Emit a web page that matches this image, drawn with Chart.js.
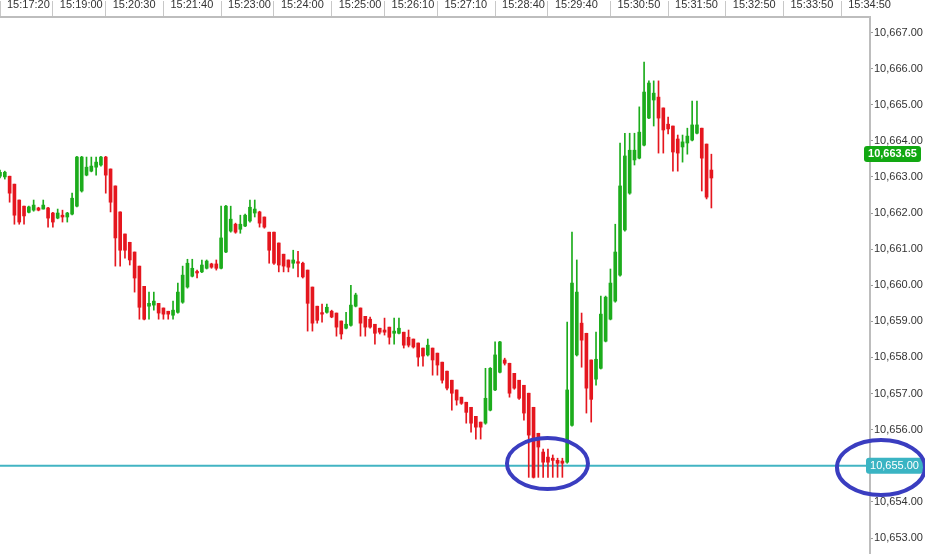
<!DOCTYPE html>
<html>
<head>
<meta charset="utf-8">
<script src="https://cdn.jsdelivr.net/npm/chart.js@4.4.0/dist/chart.umd.min.js"></script>
<style>
html,body{margin:0;padding:0;background:#fff;overflow:hidden}
#wrap{width:925px;height:554px;position:relative}
</style>
</head>
<body>
<div id="wrap"><canvas id="c" width="925" height="554"></canvas></div>
<script>
// ---- tick labels (time header) ----
const timeLabels = ['15:17:20','15:19:00','15:20:30','15:21:40','15:23:00','15:24:00','15:25:00','15:26:10',
  '15:27:10','15:28:40','15:29:40','15:30:50','15:31:50','15:32:50','15:33:50','15:34:50'];
const timeLabelSlots = [0,11,22,34,46,57,69,80,91,103,114,127,139,151,163,175];
const slotCount = 182;

// ---- candle values ----
const opens = [
10663.02,10663.00,10663.02,10662.80,10662.36,10662.19,10662.02,10662.08,10662.14,10662.11,
10662.14,10662.00,10661.86,10661.94,10661.89,10661.97,10662.19,10662.61,10663.05,10663.16,
10663.27,10663.33,10663.55,10663.22,10662.75,10662.03,10661.42,10661.19,10660.92,10660.53,
10659.97,10659.42,10659.45,10659.50,10659.37,10659.28,10659.17,10659.25,10659.53,10659.95,
10660.25,10660.37,10660.37,10660.47,10660.59,10660.59,10660.47,10660.92,10661.50,10661.69,
10661.55,10661.64,10661.78,10662.00,10662.03,10661.89,10661.47,10661.47,10661.17,10660.86,
10660.70,10660.61,10660.64,10660.61,10660.42,10659.95,10659.42,10659.23,10659.25,10659.28,
10659.23,10659.01,10658.81,10658.89,10659.42,10659.37,10659.14,10659.06,10658.92,10658.81,
10658.76,10658.84,10658.67,10658.67,10658.70,10658.56,10658.51,10658.40,10658.26,10658.07,
10658.26,10658.12,10657.87,10657.62,10657.37,10657.10,10656.90,10656.76,10656.62,10656.37,
10656.21,10656.18,10656.54,10657.10,10657.59,10657.93,10657.84,10657.56,10657.37,10657.23,
10657.01,10656.62,10655.90,10655.38,10655.24,10655.21,10655.15,10655.13,10655.10,10656.12,
10658.07,10658.95,10658.67,10657.93,10657.40,10657.70,10658.45,10659.06,10659.56,10660.28,
10661.53,10662.55,10663.47,10663.52,10663.88,10664.63,10665.13,10665.21,10664.91,10664.46,
10664.41,10664.05,10663.83,10663.94,10664.02,10664.21,10664.35,10663.91,10663.19];
const highs = [
10663.19,10663.16,10663.02,10662.80,10662.36,10662.19,10662.19,10662.36,10662.16,10662.36,
10662.16,10662.02,10662.11,10662.08,10662.02,10662.55,10663.57,10663.57,10663.55,10663.55,
10663.55,10663.57,10663.57,10663.22,10662.75,10662.03,10661.42,10661.19,10660.92,10660.53,
10659.97,10659.81,10659.81,10659.50,10659.37,10659.28,10659.56,10660.06,10660.53,10660.72,
10660.72,10660.42,10660.70,10660.70,10660.61,10660.70,10662.19,10662.21,10662.19,10661.72,
10661.94,10661.97,10662.36,10662.36,10662.05,10661.89,10661.47,10661.47,10661.17,10660.86,
10660.70,10660.97,10660.94,10660.64,10660.42,10659.95,10659.42,10659.48,10659.48,10659.31,
10659.23,10659.01,10659.25,10660.00,10659.78,10659.37,10659.14,10659.12,10658.92,10658.81,
10659.09,10658.84,10659.09,10659.09,10658.70,10658.76,10658.51,10658.40,10658.26,10658.51,
10658.26,10658.12,10657.87,10657.62,10657.37,10657.10,10656.90,10656.76,10656.62,10656.37,
10656.21,10657.70,10657.72,10658.43,10658.45,10657.98,10657.84,10657.56,10657.37,10657.23,
10657.01,10656.62,10655.90,10655.46,10655.46,10655.30,10655.21,10655.21,10658.98,10661.47,
10660.70,10659.23,10658.67,10657.93,10658.70,10659.70,10659.70,10660.45,10661.69,10663.94,
10664.21,10664.21,10664.21,10664.94,10666.18,10665.66,10665.66,10665.66,10664.91,10664.66,
10664.41,10664.16,10664.16,10664.35,10665.10,10665.10,10664.35,10663.91,10663.63];
const lows = [
10662.97,10662.94,10662.30,10661.69,10661.69,10661.69,10662.00,10662.05,10662.06,10662.11,
10661.61,10661.61,10661.84,10661.75,10661.75,10661.95,10662.17,10662.58,10663.03,10663.14,
10663.05,10663.30,10662.55,10662.03,10660.53,10660.53,10660.75,10660.56,10659.81,10659.06,
10659.04,10659.06,10659.31,10659.06,10659.06,10659.06,10659.06,10659.23,10659.50,10659.92,
10660.23,10660.20,10660.35,10660.45,10660.47,10660.42,10660.45,10660.90,10661.47,10661.44,
10661.44,10661.62,10661.75,10661.89,10661.61,10661.58,10660.61,10660.58,10660.37,10660.37,
10660.37,10660.47,10660.23,10660.20,10658.73,10658.73,10658.95,10658.98,10659.23,10659.10,
10658.59,10658.51,10658.79,10658.87,10659.40,10658.59,10658.59,10658.81,10658.37,10658.65,
10658.62,10658.37,10658.37,10658.65,10658.26,10658.29,10658.26,10657.76,10657.76,10658.04,
10657.51,10657.51,10657.29,10657.10,10656.54,10656.68,10656.70,10656.18,10655.93,10655.74,
10655.74,10656.15,10656.52,10657.08,10657.57,10657.79,10656.90,10657.12,10656.84,10656.26,
10654.68,10654.66,10654.68,10654.68,10654.68,10654.68,10654.68,10654.68,10655.07,10656.10,
10658.04,10657.73,10656.46,10656.21,10657.23,10657.68,10658.43,10659.04,10659.53,10660.25,
10661.50,10662.52,10663.33,10663.50,10663.86,10664.61,10664.41,10663.66,10663.66,10664.19,
10663.16,10663.16,10663.41,10663.63,10664.00,10664.19,10662.61,10662.39,10662.14];
const closes = [
10663.13,10663.13,10662.55,10661.94,10661.75,10661.92,10662.17,10662.22,10662.08,10662.22,
10661.86,10661.75,10662.00,10661.89,10662.00,10662.41,10663.55,10663.55,10663.27,10663.30,
10663.41,10663.55,10663.05,10662.30,10661.31,10660.97,10660.97,10660.70,10660.20,10659.39,
10659.06,10659.50,10659.56,10659.23,10659.20,10659.20,10659.31,10659.81,10660.28,10660.61,
10660.47,10660.34,10660.56,10660.67,10660.50,10660.47,10661.31,10662.19,10661.83,10661.47,
10661.69,10661.94,10662.16,10662.11,10661.72,10661.61,10660.97,10660.61,10660.56,10660.53,
10660.50,10660.70,10660.61,10660.23,10659.50,10658.95,10659.03,10659.20,10659.39,10659.12,
10658.84,10658.65,10658.92,10659.45,10659.73,10658.95,10658.84,10658.84,10658.67,10658.70,
10658.70,10658.56,10658.73,10658.81,10658.34,10658.34,10658.29,10658.01,10658.04,10658.34,
10657.93,10657.79,10657.37,10657.15,10657.01,10656.82,10656.73,10656.48,10656.18,10656.07,
10656.07,10656.87,10657.70,10658.07,10658.43,10657.84,10657.01,10657.15,10656.87,10656.46,
10655.85,10654.68,10655.52,10655.10,10655.10,10655.15,10655.07,10655.07,10657.10,10660.06,
10659.81,10658.48,10657.15,10656.84,10657.95,10659.20,10659.67,10660.06,10660.92,10662.75,
10663.58,10663.74,10663.74,10664.24,10665.35,10665.60,10665.32,10664.63,10664.30,10664.33,
10663.69,10663.66,10663.97,10664.13,10664.44,10664.44,10663.52,10662.44,10662.97];

// ---- price axis & markers ----
const priceMin = 10652.557, priceMax = 10667.429, priceStep = 1;
const lastPrice = 10663.65;
const levelPrice = 10655.00;
const circleA = {slot: 113.9, price: 10655.06, rx: 40.5, ry: 25.5};
const circleB = {axisOffset: 11, price: 10654.95, rx: 44, ry: 27.5};

const GREEN = '#1cac1c', RED = '#e5161e';
const FONT = "Arial, 'Liberation Sans', sans-serif";

const labels = Array.from({length: slotCount}, () => '');
timeLabelSlots.forEach((s, k) => { labels[s] = timeLabels[k]; });
const candleColors = closes.map((c, i) => c >= opens[i] ? GREEN : RED);
const fmt = v => Number(v).toLocaleString('en-US', {minimumFractionDigits: 2, maximumFractionDigits: 2});

function roundRect(ctx, x, y, w, h, r) {
  ctx.beginPath();
  ctx.moveTo(x + r, y);
  ctx.lineTo(x + w - r, y); ctx.quadraticCurveTo(x + w, y, x + w, y + r);
  ctx.lineTo(x + w, y + h - r); ctx.quadraticCurveTo(x + w, y + h, x + w - r, y + h);
  ctx.lineTo(x + r, y + h); ctx.quadraticCurveTo(x, y + h, x, y + h - r);
  ctx.lineTo(x, y + r); ctx.quadraticCurveTo(x, y, x + r, y);
  ctx.closePath();
}

const overlay = {
  id: 'overlay',
  beforeDatasetsDraw(chart) {
    const {ctx, chartArea, scales} = chart;
    const y = scales.y.getPixelForValue(levelPrice);
    ctx.save();
    ctx.strokeStyle = '#42b4c3';
    ctx.lineWidth = 2;
    ctx.beginPath();
    ctx.moveTo(chartArea.left, y);
    ctx.lineTo(chartArea.right, y);
    ctx.stroke();
    ctx.restore();
  },
  afterDraw(chart) {
    const {ctx, chartArea, scales} = chart;
    const R = chartArea.right;
    ctx.save();
    // last price badge
    let y = scales.y.getPixelForValue(lastPrice);
    roundRect(ctx, R - 6, y - 7.5, 57, 16, 3);
    ctx.fillStyle = '#12a812';
    ctx.fill();
    ctx.fillStyle = '#ffffff';
    ctx.font = 'bold 11px ' + FONT;
    ctx.textAlign = 'center';
    ctx.textBaseline = 'middle';
    ctx.fillText(fmt(lastPrice), R + 22.5, y + 0.5);
    // level badge
    y = scales.y.getPixelForValue(levelPrice);
    roundRect(ctx, R - 4, y - 8, 57, 16, 3);
    ctx.fillStyle = '#3ab4c3';
    ctx.fill();
    ctx.fillStyle = '#ffffff';
    ctx.font = '11px ' + FONT;
    ctx.fillText(fmt(levelPrice), R + 24.5, y + 0.5);
    // hand-drawn ellipses
    ctx.strokeStyle = '#3a3dc0';
    ctx.lineWidth = 4;
    ctx.beginPath();
    ctx.ellipse(scales.x.getPixelForValue(circleA.slot), scales.y.getPixelForValue(circleA.price),
      circleA.rx, circleA.ry, 0, 0, Math.PI * 2);
    ctx.stroke();
    ctx.beginPath();
    ctx.ellipse(R + circleB.axisOffset, scales.y.getPixelForValue(circleB.price),
      circleB.rx, circleB.ry, 0, 0, Math.PI * 2);
    ctx.stroke();
    ctx.restore();
  }
};

new Chart(document.getElementById('c'), {
  type: 'bar',
  data: {
    labels: labels,
    datasets: [
      {
        label: 'wick',
        data: lows.map((l, i) => [l, highs[i]]),
        backgroundColor: candleColors,
        barThickness: 1,
        grouped: false,
        order: 2
      },
      {
        label: 'body',
        data: opens.map((o, i) => [Math.min(o, closes[i]), Math.max(o, closes[i])]),
        backgroundColor: candleColors,
        barThickness: 3,
        minBarLength: 1.5,
        grouped: false,
        order: 1
      }
    ]
  },
  options: {
    responsive: false,
    animation: false,
    devicePixelRatio: 1,
    layout: {padding: 0},
    plugins: {legend: {display: false}, tooltip: {enabled: false}},
    scales: {
      x: {
        type: 'category',
        position: 'top',
        offset: false,
        grid: {
          offset: false,
          drawOnChartArea: false,
          drawTicks: true,
          tickLength: 16,
          lineWidth: 1,
          color: (c) => (labels[c.index] ? '#c8c8c8' : 'rgba(0,0,0,0)')
        },
        border: {display: true, color: '#bdbdbd', width: 2},
        ticks: {
          autoSkip: false,
          maxRotation: 0,
          minRotation: 0,
          align: 'start',
          labelOffset: 7,
          padding: -11,
          color: '#333333',
          font: {family: FONT, size: 11}
        },
        afterFit: (s) => { s.height = 17; s.paddingLeft = 0; s.paddingRight = 0; }
      },
      y: {
        type: 'linear',
        position: 'right',
        min: priceMin,
        max: priceMax,
        grid: {drawOnChartArea: false, drawTicks: true, tickLength: 3, color: '#9a9a9a'},
        border: {display: true, color: '#bdbdbd', width: 2},
        ticks: {
          stepSize: priceStep,
          includeBounds: false,
          padding: 1,
          color: '#333333',
          font: {family: FONT, size: 11},
          callback: (v) => fmt(v)
        },
        afterFit: (s) => { s.width = 55; s.paddingTop = 0; s.paddingBottom = 0; }
      }
    }
  },
  plugins: [overlay]
});
</script>
</body>
</html>
